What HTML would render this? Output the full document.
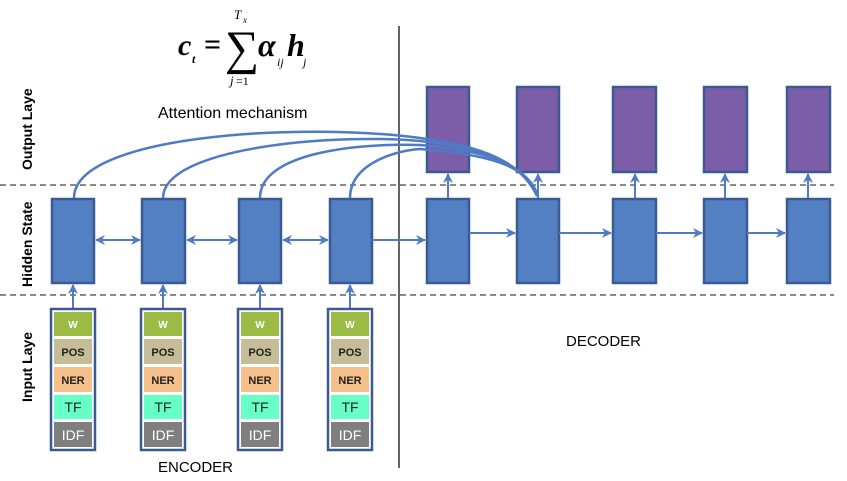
<!DOCTYPE html>
<html><head><style>body{margin:0;background:#fff}svg{display:block}</style></head><body>
<svg width="847" height="481" viewBox="0 0 847 481" xmlns="http://www.w3.org/2000/svg" font-family="Liberation Sans, sans-serif">
<defs>
<marker id="a" markerWidth="10" markerHeight="10" refX="9" refY="5" orient="auto-start-reverse" markerUnits="userSpaceOnUse"><path d="M0,0 L10,5 L0,10 L3,5 z" fill="#4f7ac4"/></marker>
</defs>
<!-- formula -->
<g font-family="Liberation Serif, serif" font-weight="bold">
<text x="178" y="55" font-style="italic" font-size="30">c</text>
<text x="192" y="63" font-style="italic" font-size="12">t</text>
<text x="204" y="54" font-size="30">=</text>
<text x="225" y="64" font-size="48" font-weight="normal">∑</text>
<text x="234" y="19" font-style="italic" font-size="13" font-weight="normal">T</text>
<text x="243" y="23" font-style="italic" font-size="9" font-weight="normal">x</text>
<text x="230" y="85" font-style="italic" font-size="13" font-weight="normal">j</text><text x="236" y="85" font-size="12" font-weight="normal">=1</text>
<text x="258" y="56" font-style="italic" font-size="32">α</text>
<text x="277" y="66" font-style="italic" font-size="12" font-weight="normal">ij</text>
<text x="287" y="56" font-style="italic" font-size="32">h</text>
<text x="303" y="66" font-style="italic" font-size="12" font-weight="normal">j</text>
</g>
<text x="158" y="118" font-size="16">Attention mechanism</text>
<!-- layer labels -->
<g font-size="14" font-weight="bold">
<text transform="translate(32,170) rotate(-90)">Output Laye</text>
<text transform="translate(32,287) rotate(-90)">Hidden State</text>
<text transform="translate(32,402) rotate(-90)">Input Laye</text>
</g>
<!-- dashed & vertical -->
<line x1="0" y1="185" x2="834" y2="185" stroke="#444" stroke-width="1.3" stroke-dasharray="6,4"/>
<line x1="0" y1="295" x2="834" y2="295" stroke="#444" stroke-width="1.3" stroke-dasharray="6,4"/>
<line x1="399" y1="26" x2="399" y2="468" stroke="#111" stroke-width="1.3"/>
<!-- output boxes -->
<g fill="#7b5ea7" stroke="#3b5a92" stroke-width="2.5">
<rect x="427" y="87" width="42" height="85"/><rect x="517" y="87" width="42" height="85"/><rect x="613" y="87" width="43" height="85"/><rect x="704" y="87" width="43" height="85"/><rect x="787" y="87" width="43" height="85"/>
</g>
<!-- hidden boxes -->
<g fill="#5380c3" stroke="#3b5a92" stroke-width="2.5">
<rect x="52" y="199" width="42" height="84"/><rect x="142" y="199" width="43" height="84"/><rect x="239" y="199" width="42" height="84"/><rect x="330" y="199" width="42" height="84"/>
<rect x="427" y="199" width="42" height="84"/><rect x="517" y="199" width="42" height="84"/><rect x="613" y="199" width="43" height="84"/><rect x="704" y="199" width="43" height="84"/><rect x="787" y="199" width="43" height="84"/>
</g>
<g stroke="#4f7ac4" stroke-width="2" fill="none">
<line x1="96" y1="240" x2="140" y2="240" marker-start="url(#a)" marker-end="url(#a)"/>
<line x1="187" y1="240" x2="237" y2="240" marker-start="url(#a)" marker-end="url(#a)"/>
<line x1="283" y1="240" x2="328" y2="240" marker-start="url(#a)" marker-end="url(#a)"/>
<line x1="372" y1="240" x2="425" y2="240" marker-end="url(#a)"/>
<line x1="469" y1="233" x2="515" y2="233" marker-end="url(#a)"/>
<line x1="559" y1="233" x2="611" y2="233" marker-end="url(#a)"/>
<line x1="656" y1="233" x2="702" y2="233" marker-end="url(#a)"/>
<line x1="747" y1="233" x2="785" y2="233" marker-end="url(#a)"/>
<line x1="448" y1="198" x2="448" y2="174" marker-end="url(#a)"/>
<line x1="538" y1="198" x2="538" y2="174" marker-end="url(#a)"/>
<line x1="635" y1="198" x2="635" y2="174" marker-end="url(#a)"/>
<line x1="725" y1="198" x2="725" y2="174" marker-end="url(#a)"/>
<line x1="808" y1="198" x2="808" y2="174" marker-end="url(#a)"/>
<line x1="73" y1="309" x2="73" y2="285" marker-end="url(#a)"/>
<line x1="163" y1="309" x2="163" y2="285" marker-end="url(#a)"/>
<line x1="260" y1="309" x2="260" y2="285" marker-end="url(#a)"/>
<line x1="350" y1="309" x2="350" y2="285" marker-end="url(#a)"/>
<path d="M74,198 C74,135 300,122 420,138 C480,146 520,160 537,196" stroke-width="2.5"/>
<path d="M163,198 C163,148 330,133 420,141 C490,149 525,165 537,196" stroke-width="2.5"/>
<path d="M260,198 C260,152 360,143 420,145 C495,151 528,168 538,196" stroke-width="2.5"/>
<path d="M350,198 C350,162 400,150 420,149 C500,155 530,170 538,196" stroke-width="2.5"/>
</g>
<!-- input stacks -->
<g font-size="11" font-weight="bold" text-anchor="middle">
<g id="s">
<rect x="51" y="309" width="44" height="141" fill="#fff" stroke="#3b5a92" stroke-width="2.5"/>
<rect x="54" y="312" width="38" height="24" fill="#9bbb45"/><text x="73" y="328" fill="#fff" font-size="10">W</text>
<rect x="54" y="339" width="38" height="25" fill="#c4bd97"/><text x="73" y="356" fill="#222">POS</text>
<rect x="54" y="367" width="38" height="25" fill="#f5c08a"/><text x="73" y="384" fill="#222">NER</text>
<rect x="54" y="395" width="38" height="24" fill="#66ffc6"/><text x="73" y="412" fill="#222" font-weight="normal" font-size="14">TF</text>
<rect x="54" y="422" width="38" height="25" fill="#7f7f7f"/><text x="73" y="440" fill="#fff" font-weight="normal" font-size="14">IDF</text>
</g>
<use href="#s" x="90"/><use href="#s" x="187"/><use href="#s" x="277"/>
</g>
<text x="158" y="472" font-size="15">ENCODER</text>
<text x="566" y="346" font-size="15">DECODER</text>
</svg>
</body></html>
